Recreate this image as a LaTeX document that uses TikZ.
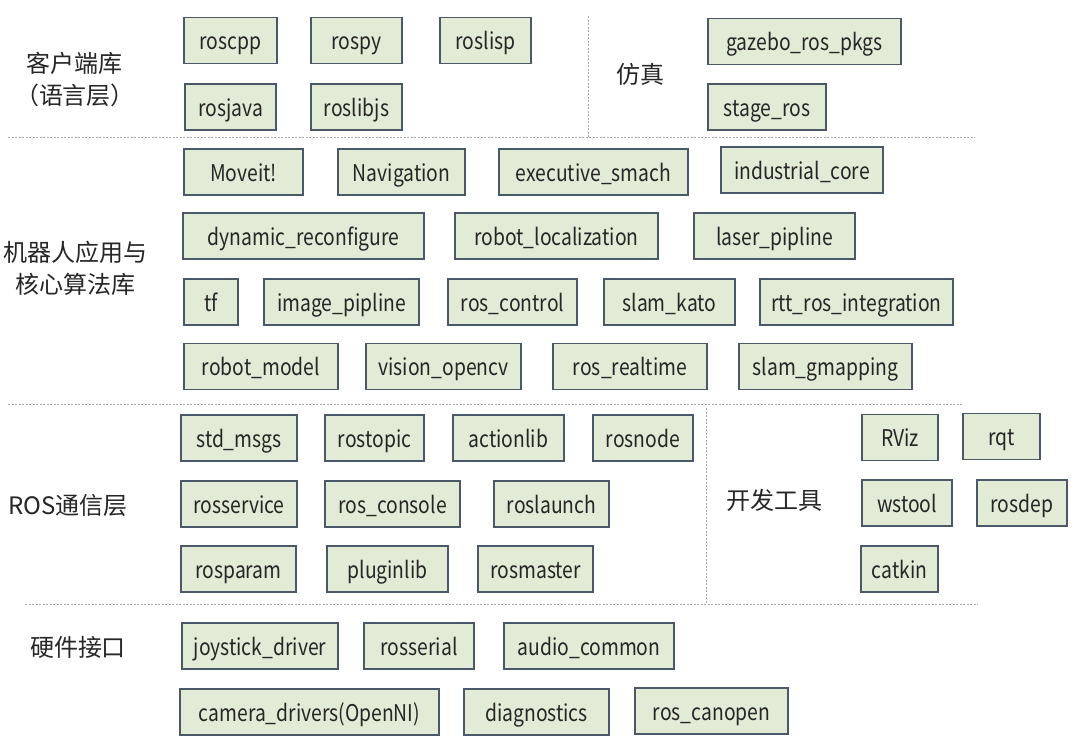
\documentclass[tikz,border=0pt]{standalone}
\usepackage{fontspec}
\setmainfont{Noto Sans CJK SC}
\newfontfamily\pkgfont[FakeStretch=0.84]{Noto Sans CJK SC}
\definecolor{pkgfill}{HTML}{E2EBD6}
\definecolor{pkgline}{HTML}{4A5868}
\definecolor{sepline}{HTML}{A8A8A8}
\tikzset{
    pkg/.style={draw=pkgline, line width=1.1pt, fill=pkgfill, minimum height=46pt,
        inner sep=0pt, text height=18pt, text depth=0pt, text=black!85,
        font=\pkgfont\fontsize{23}{26}\selectfont},
    layer/.style={align=center, text=black!85, font=\fontsize{24}{32}\selectfont},
    sepl/.style={draw=sepline, line width=0.7pt, dash pattern=on 2pt off 1.5pt}
}
\begin{document}
\begin{tikzpicture}[x=1pt,y=-1pt]
        \useasboundingbox[fill=white] (0,0) rectangle (1076,750);
        % separators
        \draw[sepl] (8,137) -- (975,137);
        \draw[sepl] (588,16) -- (588,137);
        \draw[sepl] (8,404) -- (962,404);
        \draw[sepl] (706,408) -- (706,604);
        \draw[sepl] (25,604) -- (978,604);
        % layer names
        \node[layer] (client) at (75,79) {客户端库\\（语言层）};
        \node[layer] (simu) at (640,74) {仿真};
        \node[layer] (apps) at (76,268) {机器人应用与\\核心算法库};
        \node[layer] (comm) at (68,505) {ROS通信层};
        \node[layer] (tools) at (774,500) {开发工具};
        \node[layer] (hw) at (78,647) {硬件接口};
        % client libraries and simulation
        \foreach \n/\x/\y/\w/\t in {roscpp/230.5/40.5/93/roscpp, rospy/356.5/40.5/91/rospy,
                roslisp/485.5/40.5/91/roslisp, gazebo/804.5/41.5/193/gazebo\_ros\_pkgs,
                rosjava/230.5/107/91/rosjava, roslibjs/356.5/107/91/roslibjs,
                stageros/767/107/118/stage\_ros}
        {
                \node[pkg, minimum width=\w pt] (\n) at (\x,\y) {\t};
        }
        % applications and core algorithms
        \foreach \n/\x/\y/\w/\t in {moveit/243.5/172/119/Moveit!, navigation/401.5/172/127/Navigation,
                smach/593.5/172/189/executive\_smach, induscore/802/170/162/industrial\_core,
                dynreconf/303.5/236/241/dynamic\_reconfigure, robotloc/556.5/236/203/robot\_localization,
                laserpip/774.5/236/161/laser\_pipline,
                tf/211/302/54/tf, imagepip/341.5/302/155/image\_pipline, roscontrol/512.5/302/129/ros\_control,
                slamkato/669.5/302/131/slam\_kato, rttros/856.5/302/193/rtt\_ros\_integration,
                robotmodel/261/366.5/154/robot\_model, visioncv/443.5/366.5/155/vision\_opencv,
                realtime/630/366.5/154/ros\_realtime, gmapping/825.5/366.5/173/slam\_gmapping}
        {
                \node[pkg, minimum width=\w pt] (\n) at (\x,\y) {\t};
        }
        % communication layer and tools
        \foreach \n/\x/\y/\w/\t in {stdmsgs/239/438/116/std\_msgs, rostopic/374.5/438/99/rostopic,
                actionlib/508.5/438/111/actionlib, rosnode/643/438/100/rosnode,
                rosservice/239/504/116/rosservice, rosconsole/392.5/504/135/ros\_console,
                roslaunch/551.5/504/115/roslaunch,
                rosparam/238.5/569/115/rosparam, pluginlib/387.5/569/121/pluginlib,
                rosmaster/535.5/569/115/rosmaster,
                rviz/900/437.5/76/RViz, rqt/1001.5/436.5/77/rqt,
                wstool/907/503/90/wstool, rosdep/1022/503/90/rosdep,
                catkin/899.5/569/77/catkin}
        {
                \node[pkg, minimum width=\w pt] (\n) at (\x,\y) {\t};
        }
        % hardware interfaces
        \foreach \n/\x/\y/\w/\t in {joystick/260/646/156/joystick\_driver, rosserial/419/646/110/rosserial,
                audio/589/646/170/audio\_common, camera/309.5/712/259/camera\_drivers(OpenNI),
                diagnostics/536.5/712/145/diagnostics, canopen/711.5/711/153/ros\_canopen}
        {
                \node[pkg, minimum width=\w pt] (\n) at (\x,\y) {\t};
        }
\end{tikzpicture}
\end{document}
